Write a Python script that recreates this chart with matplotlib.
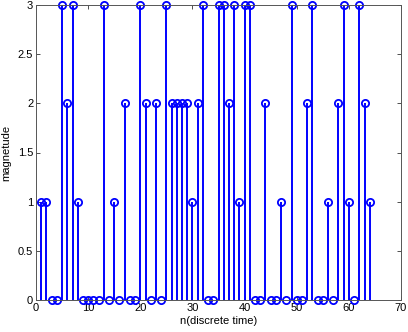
import matplotlib
matplotlib.use("Agg")
import matplotlib.pyplot as plt
import numpy as np

plt.rcParams['font.family'] = ['Liberation Sans', 'DejaVu Sans']

n = list(range(1, 65))
magnitude = [1, 1, 0, 0, 3, 2, 3, 1, 0, 0, 0, 0, 3, 0, 1, 0,
             2, 0, 0, 3, 2, 0, 2, 0, 3, 2, 2, 2, 2, 1, 2, 3,
             0, 0, 3, 3, 2, 3, 1, 3, 3, 0, 0, 2, 0, 0, 1, 0,
             3, 0, 0, 2, 3, 0, 0, 1, 0, 2, 3, 1, 0, 3, 2, 1]
xticks = [0, 10, 20, 30, 40, 50, 60, 70]
yticks = [0, 0.5, 1, 1.5, 2, 2.5, 3]
ytick_labels = ['0', '0.5', '1', '1.5', '2', '2.5', '3']

fig = plt.figure(figsize=(4.08, 3.32), dpi=100)
ax = fig.add_axes([36/408, 1 - 300/332, 365/408, 295/332])

blue = '#0000ff'
markerline, stemlines, baseline = ax.stem(n, magnitude, basefmt=' ')
plt.setp(stemlines, color=blue, linewidth=1.4)
plt.setp(markerline, color=blue, marker='o', markersize=5.2,
         markerfacecolor='none', markeredgewidth=1.3, clip_on=False)
markerline.set_linestyle('none')
stemlines.set_clip_on(False)

ax.set_xlim(0, 70)
ax.set_ylim(0, 3)
ax.set_xticks(xticks)
ax.set_yticks(yticks)
ax.set_yticklabels(ytick_labels)
ax.tick_params(direction='in', length=3, width=0.6, colors='#333333',
               labelcolor='black', labelsize=8, top=True, right=True, pad=2)
for sp in ax.spines.values():
    sp.set_color('#555555')
    sp.set_linewidth(0.7)
ax.set_xlabel('n(discrete time)', fontsize=8, labelpad=2)
ax.set_ylabel('magnetude', fontsize=8, labelpad=5)

fig.savefig('out.png', dpi=100)
